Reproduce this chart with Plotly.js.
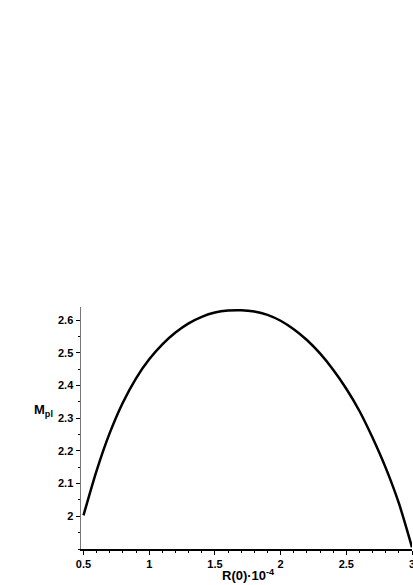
<!DOCTYPE html>
<html>
<head>
<meta charset="utf-8">
<script src="https://cdn.plot.ly/plotly-3.0.1.min.js"></script>
<style>
  html, body { margin: 0; padding: 0; background: #fff; }
  #chart { width: 413px; height: 585px; }
</style>
</head>
<body>
<div id="chart"></div>
<script>
// R(0) in units of 10^-4
const R0 = [0.5, 0.6, 0.7, 0.8, 0.9, 1.0, 1.1, 1.2, 1.3, 1.4, 1.5, 1.6, 1.7,
            1.8, 1.9, 2.0, 2.1, 2.2, 2.3, 2.4, 2.5, 2.6, 2.7, 2.8, 2.9, 3.0];
const Mpl = [2.003, 2.14, 2.255, 2.348, 2.422, 2.48, 2.526, 2.562, 2.59, 2.61, 2.623, 2.629, 2.63,
             2.626, 2.616, 2.598, 2.572, 2.539, 2.498, 2.448, 2.39, 2.322, 2.24, 2.148, 2.04, 1.905];

const xTicks = [0.5, 1, 1.5, 2, 2.5, 3];
const xTickText = ["0.5", "1", "1.5", "2", "2.5", "3"];
const yTicks = [2, 2.1, 2.2, 2.3, 2.4, 2.5, 2.6];
const yTickText = ["2", "2.1", "2.2", "2.3", "2.4", "2.5", "2.6"];

const tickFont = { family: "Liberation Sans, Arial, sans-serif", size: 11, color: "#000", weight: 700 };

const trace = {
  x: R0,
  y: Mpl,
  type: "scatter",
  mode: "lines",
  line: { color: "#000", width: 2.5, shape: "spline", smoothing: 0.8 },
  cliponaxis: false,
  hoverinfo: "skip",
};

const layout = {
  width: 413,
  height: 585,
  margin: { l: 81, r: 1, t: 307, b: 36 },
  paper_bgcolor: "#fff",
  plot_bgcolor: "#fff",
  showlegend: false,
  xaxis: {
    range: [0.481, 3.0],
    showgrid: false,
    zeroline: false,
    showline: true,
    linecolor: "#000",
    linewidth: 1.5,
    ticks: "outside",
    ticklen: 4,
    tickwidth: 1,
    tickcolor: "#000",
    tickvals: xTicks,
    ticktext: xTickText,
    tickfont: tickFont,
    ticklabeloverflow: "allow",
    minor: { dtick: 0.1, tick0: 0.5, ticks: "outside", ticklen: 2, tickcolor: "#000", showgrid: false },
    fixedrange: true,
  },
  yaxis: {
    range: [1.9, 2.64],
    showgrid: false,
    zeroline: false,
    showline: true,
    linecolor: "#777",
    linewidth: 1.5,
    ticks: "outside",
    ticklen: 4,
    tickwidth: 1,
    tickcolor: "#000",
    tickvals: yTicks,
    ticktext: yTickText,
    tickfont: tickFont,
    minor: { dtick: 0.05, tick0: 2, ticks: "outside", ticklen: 2, tickcolor: "#000", showgrid: false },
    fixedrange: true,
  },
  annotations: [
    {
      text: "M<sub>pl</sub>",
      xref: "paper", yref: "paper",
      x: -0.112, y: 0.573,
      xanchor: "center", yanchor: "middle",
      showarrow: false,
      font: { family: "Liberation Sans, Arial, sans-serif", size: 13, color: "#000", weight: 700 },
    },
    {
      text: "R(0)·10<sup>-4</sup>",
      xref: "paper", yref: "paper",
      x: 0.507, y: -0.108,
      xanchor: "center", yanchor: "middle",
      showarrow: false,
      font: { family: "Liberation Sans, Arial, sans-serif", size: 13, color: "#000", weight: 700 },
    },
  ],
};

Plotly.newPlot("chart", [trace], layout, { displayModeBar: false, staticPlot: true });
</script>
</body>
</html>
